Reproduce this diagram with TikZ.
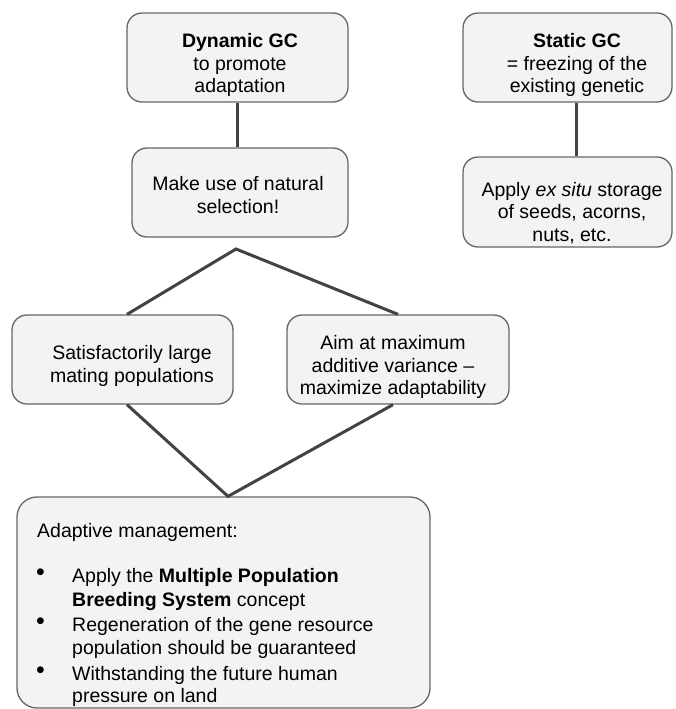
\documentclass[tikz,border=0pt]{standalone}
\usepackage{fontspec}
\setmainfont{Liberation Sans}
\definecolor{boxfill}{HTML}{F3F3F3}
\definecolor{boxline}{HTML}{666666}
\definecolor{conn}{HTML}{434343}
\tikzset{
  gcbox/.style={rectangle, rounded corners=15pt, fill=boxfill, draw=boxline, line width=1.3pt, inner sep=0pt},
  txt/.style={inner sep=0pt, align=center, font=\fontsize{19.5}{22.5}\selectfont},
  ltxt/.style={inner sep=0pt, anchor=base west, font=\fontsize{19.5}{22.5}\selectfont},
  bul/.style={inner sep=0pt, anchor=base west, font=\fontsize{25}{25}\selectfont},
  link/.style={draw=conn, line width=3pt}
}
\begin{document}
\begin{tikzpicture}[x=1pt,y=-1pt]
\useasboundingbox (0,0) rectangle (676,709);
% boxes
\node[gcbox, minimum width=221pt, minimum height=89pt] (dyn) at (237.5,57.5) {};
\node[gcbox, minimum width=216pt, minimum height=89pt] (nat) at (240,192.5) {};
\node[gcbox, minimum width=209pt, minimum height=89pt] (stat) at (567.5,57.5) {};
\node[gcbox, minimum width=209pt, minimum height=90pt] (stor) at (567.5,202) {};
\node[gcbox, minimum width=221pt, minimum height=89pt] (sat) at (122.5,359.5) {};
\node[gcbox, minimum width=222pt, minimum height=89pt] (aim) at (398,359.5) {};
\node[gcbox, rounded corners=20pt, minimum width=413pt, minimum height=211pt] (mgmt) at (223.5,602.5) {};
% texts
\node[txt] (dyntxt) at (240,65) {\textbf{Dynamic GC}\\to promote\\adaptation};
\node[txt] (stattxt) at (577,65) {\textbf{Static GC}\\= freezing of the\\existing genetic};
\node[txt] (nattxt) at (238,195) {Make use of natural\\selection!};
\node[txt] (stortxt) at (572,213) {Apply \textit{ex situ} storage\\of seeds, acorns,\\nuts, etc.};
\node[txt] (sattxt) at (132,366) {Satisfactorily large\\mating populations};
\node[txt] (aimtxt) at (393,367) {Aim at maximum\\additive variance –\\maximize adaptability};
\node[ltxt] (m0) at (37,537) {Adaptive management:};
\node[bul] (b1) at (36,580) {•};
\node[ltxt] (m1) at (72,582) {Apply the \textbf{Multiple Population}};
\node[ltxt] (m2) at (72,606) {\textbf{Breeding System} concept};
\node[bul] (b2) at (36,629) {•};
\node[ltxt] (m3) at (72,631) {Regeneration of the gene resource};
\node[ltxt] (m4) at (72,654) {population should be guaranteed};
\node[bul] (b3) at (36,678) {•};
\node[ltxt] (m5) at (72,680) {Withstanding the future human};
\node[ltxt] (m6) at (72,702) {pressure on land};
% connectors
\coordinate (apexA) at (236,249);
\coordinate (sline) at (576,0);
\draw[link] (dyn.south) -- (dyn.south |- nat.north);
\draw[link] (sline |- stat.south) -- (sline |- stor.north);
\draw[link] ([xshift=4.5pt]sat.north) -- (apexA) -- (aim.north);
\draw[link] ([xshift=4.5pt]sat.south) -- ([xshift=4.5pt]mgmt.north) -- ([xshift=-5pt]aim.south);
\end{tikzpicture}
\end{document}
